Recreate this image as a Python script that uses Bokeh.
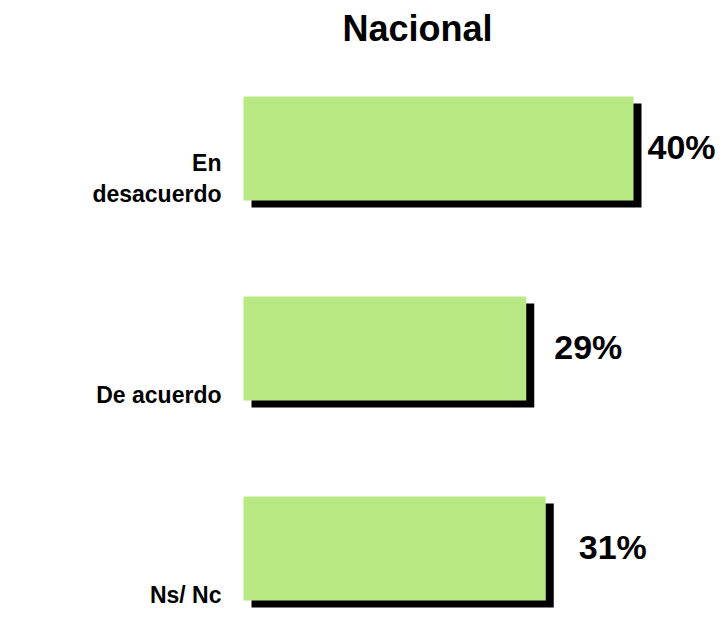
from bokeh.plotting import figure
from bokeh.models import ColumnDataSource, Range1d
from bokeh.core.properties import value
from bokeh.embed import file_html
from bokeh.resources import INLINE

# ---- data ----
categories = ["En\ndesacuerdo", "De acuerdo", "Ns/ Nc"]
values = [40, 29, 31]
value_labels = ["40%", "29%", "31%"]
title_text = "Nacional"

# ---- style ----
W, H = 720, 610
FRAME_TOP = 53          # measured title panel height
PX_PER_UNIT_X = 9.75
PX_PER_UNIT_Y = 200
BAR_H = 0.52
SHADOW_DX = 8 / PX_PER_UNIT_X
SHADOW_DY = 7 / PX_PER_UNIT_Y
GREEN = "#B9E985"
FONT = "Liberation Sans"
label_dx = [14, 28, 33]

idx = list(range(len(categories)))
src = ColumnDataSource(dict(
    y=idx,
    v=values,
    cat=categories,
    lab=value_labels,
    sh_left=[SHADOW_DX] * len(idx),
    sh_right=[v + SHADOW_DX for v in values],
    sh_top=[i - BAR_H / 2 + SHADOW_DY for i in idx],
    sh_bot=[i + BAR_H / 2 + SHADOW_DY for i in idx],
    ybot=[i + BAR_H / 2 for i in idx],
    zero=[0] * len(idx),
    dx=label_dx,
))

x0 = -243 / PX_PER_UNIT_X
x_range = Range1d(x0, x0 + W / PX_PER_UNIT_X)
fh = H - FRAME_TOP
top_val = -95 / PX_PER_UNIT_Y
y_range = Range1d(top_val + fh / PX_PER_UNIT_Y, top_val)

p = figure(width=W, height=H, x_range=x_range, y_range=y_range,
           output_backend="svg", toolbar_location=None,
           x_axis_location=None, y_axis_location=None,
           min_border=0, title=title_text)
p.outline_line_color = None
p.grid.visible = False
p.background_fill_color = "white"
p.border_fill_color = "white"

p.title.text_font = FONT
p.title.text_font_size = "36px"
p.title.text_font_style = "bold"
p.title.text_color = "black"
p.title.align = "left"
p.title.offset = 342

# shadows
p.quad(left="sh_left", right="sh_right", top="sh_top", bottom="sh_bot",
       source=src, fill_color="black", line_color=None)
# bars
p.hbar(y="y", left="zero", right="v", height=BAR_H, source=src,
       fill_color=GREEN, line_color=None)

# value labels
p.text(x="v", y="y", text="lab", source=src, x_offset="dx", y_offset=-2,
       text_font=value(FONT), text_font_size="34px", text_font_style="bold",
       text_color="black", text_align="left", text_baseline="middle")

# category labels
p.text(x="zero", y="ybot", text="cat", source=src, x_offset=-22, y_offset=7,
       text_font=value(FONT), text_font_size="23px", text_font_style="bold",
       text_color="black", text_align="right", text_baseline="bottom")

open("out.html", "w").write(file_html(p, INLINE))
